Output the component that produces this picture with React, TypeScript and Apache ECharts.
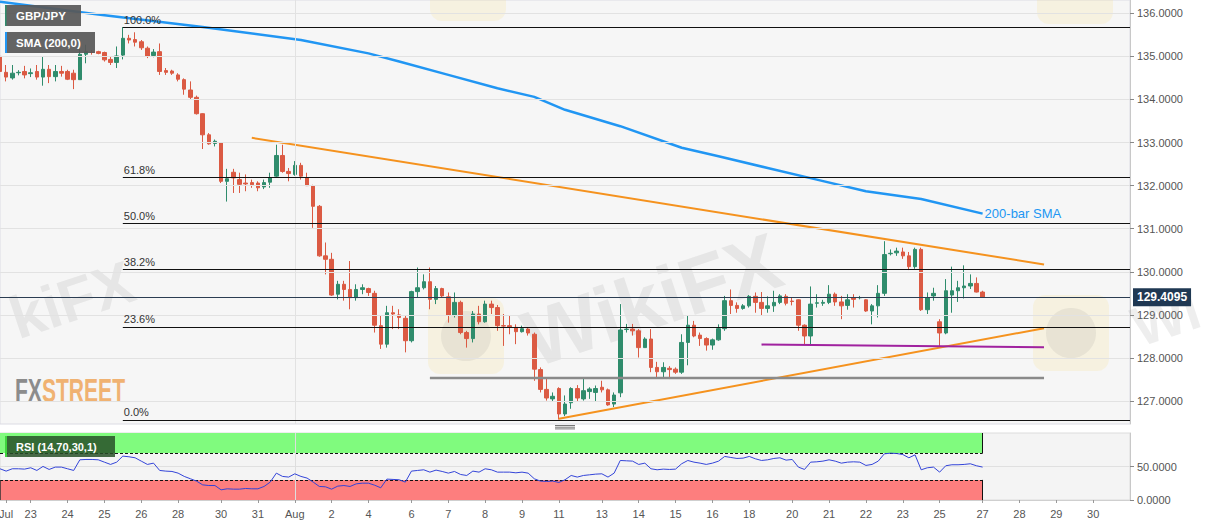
import React, { useEffect, useRef } from "react";
import * as echarts from "echarts";

// ---------- data ----------
const slotCount = 185; // 4-hour slots on the x axis (data + empty future slots)
const tickLabels = ["Jul", "23", "24", "25", "26", "28", "30", "31", "Aug", "2", "4", "6", "7", "8", "9", "11", "13", "14", "15", "16", "18", "20", "21", "22", "23", "25", "27", "28", "29", "30"];
const tickSlots = [1, 5, 11, 17, 23, 29, 36, 42, 48, 54, 60, 67, 73, 79, 85, 91, 98, 104, 110, 116, 122, 129, 135, 141, 147, 153, 160, 166, 172, 178];

const opens = [
  135.00, 134.63, 134.50, 134.62, 134.65, 134.60, 134.65, 134.52, 134.70, 134.53,
  134.65, 134.65, 134.61, 134.46, 135.05, 135.10, 135.11, 135.09, 134.93, 134.86,
  135.03, 135.42, 135.39, 135.34, 135.19, 135.02, 135.11, 134.67, 134.66, 134.57,
  134.46, 134.22, 134.05, 133.67, 133.18, 132.98, 132.99, 132.10, 132.31, 132.14,
  132.06, 132.07, 132.06, 131.97, 132.08, 132.22, 132.70, 132.33, 132.26, 132.47,
  132.18, 131.99, 131.52, 130.37, 130.29, 129.48, 129.71, 129.59, 129.40, 129.59,
  129.61, 129.50, 128.75, 128.32, 129.05, 129.00, 128.92, 128.40, 129.54, 129.63,
  129.77, 129.36, 129.61, 129.42, 128.99, 129.29, 128.59, 128.45, 129.02, 128.84,
  129.25, 129.17, 128.75, 128.75, 128.71, 128.61, 128.67, 128.55, 127.73, 127.27,
  127.05, 127.29, 126.70, 126.96, 127.29, 127.05, 127.22, 127.20, 127.32, 127.26,
  126.93, 127.19, 128.66, 128.67, 128.63, 128.24, 128.44, 127.78, 127.68, 127.76,
  127.74, 127.67, 128.36, 128.76, 128.53, 128.45, 128.30, 128.42, 128.68, 129.33,
  129.22, 129.15, 129.21, 129.43, 129.29, 129.15, 129.21, 129.29, 129.43, 129.32,
  129.35, 128.76, 128.51, 129.27, 129.27, 129.29, 129.48, 129.30, 129.22, 129.40,
  129.40, 129.35, 129.09, 129.21, 129.50, 130.42, 130.44, 130.46, 130.37, 130.12,
  130.52, 129.12, 129.44, 128.84, 128.58, 129.46, 129.56, 129.63, 129.67, 129.73, 129.53,
];
const closes = [
  134.65, 134.52, 134.61, 134.63, 134.57, 134.62, 134.52, 134.70, 134.53, 134.65,
  134.61, 134.47, 134.46, 135.05, 135.11, 135.09, 135.07, 134.92, 134.86, 135.01,
  135.42, 135.38, 135.33, 135.20, 135.00, 135.10, 134.65, 134.63, 134.61, 134.47,
  134.24, 134.05, 133.67, 133.18, 132.97, 133.03, 132.10, 132.16, 132.18, 132.03,
  132.04, 132.02, 131.95, 132.07, 132.18, 132.70, 132.33, 132.28, 132.47, 132.22,
  132.00, 131.52, 130.37, 130.29, 129.46, 129.71, 129.59, 129.40, 129.59, 129.63,
  129.52, 128.76, 128.32, 129.05, 129.02, 128.94, 128.40, 129.54, 129.63, 129.77,
  129.36, 129.61, 129.44, 128.99, 129.29, 128.59, 128.45, 129.02, 128.84, 129.25,
  129.17, 128.75, 128.74, 128.72, 128.61, 128.68, 128.58, 127.74, 127.27, 127.07,
  127.11, 126.70, 126.93, 127.29, 127.07, 127.24, 127.28, 127.29, 127.26, 126.91,
  127.14, 128.65, 128.67, 128.63, 128.24, 128.44, 127.78, 127.68, 127.78, 127.73,
  127.67, 128.36, 128.76, 128.51, 128.45, 128.30, 128.42, 128.68, 129.33, 129.22,
  129.15, 129.21, 129.43, 129.29, 129.15, 129.21, 129.29, 129.44, 129.27, 129.31,
  128.76, 128.51, 129.25, 129.28, 129.29, 129.48, 129.30, 129.21, 129.35, 129.36,
  129.40, 129.09, 129.21, 129.50, 130.40, 130.43, 130.48, 130.37, 130.12, 130.52,
  129.12, 129.40, 129.50, 128.58, 129.56, 129.56, 129.63, 129.67, 129.73, 129.53, 129.41,
];
const lows = [
  134.60, 134.42, 134.46, 134.56, 134.49, 134.52, 134.46, 134.32, 134.38, 134.42,
  134.53, 134.45, 134.24, 134.46, 134.84, 135.04, 135.05, 134.88, 134.80, 134.73,
  134.93, 135.30, 135.23, 135.15, 134.96, 134.98, 134.57, 134.57, 134.57, 134.42,
  134.11, 133.99, 133.65, 132.85, 132.95, 132.91, 132.06, 131.63, 131.83, 131.83,
  131.87, 131.95, 131.87, 131.92, 131.95, 132.18, 132.30, 132.10, 132.23, 132.14,
  131.99, 131.02, 130.35, 129.94, 129.44, 129.36, 129.33, 129.13, 129.33, 129.48,
  129.44, 128.59, 128.21, 128.24, 128.67, 128.67, 128.13, 128.36, 129.40, 129.59,
  129.13, 129.25, 129.40, 128.82, 128.94, 128.55, 128.24, 128.36, 128.78, 128.82,
  129.02, 128.63, 128.28, 128.55, 128.32, 128.59, 128.52, 127.47, 127.20, 127.01,
  126.99, 126.57, 126.65, 126.82, 126.99, 127.01, 127.05, 126.99, 127.20, 126.89,
  126.86, 127.09, 128.59, 128.52, 128.01, 128.24, 127.67, 127.55, 127.55, 127.51,
  127.63, 127.63, 127.83, 128.48, 128.28, 128.17, 128.19, 128.40, 128.63, 129.02,
  129.05, 129.12, 129.17, 129.05, 128.99, 129.05, 129.07, 129.25, 129.22, 129.22,
  128.63, 128.30, 128.30, 129.17, 129.21, 129.25, 129.21, 128.90, 129.12, 129.17,
  129.36, 129.07, 128.78, 128.94, 129.44, 130.38, 130.37, 130.30, 130.04, 130.07,
  129.09, 129.02, 129.33, 128.24, 128.55, 129.05, 129.30, 129.38, 129.60, 129.52, 129.40,
];
const highs = [
  135.05, 134.80, 134.80, 134.68, 134.78, 134.72, 134.80, 135.00, 134.80, 134.80,
  134.78, 134.69, 134.69, 135.30, 135.27, 135.15, 135.13, 135.11, 134.99, 135.23,
  135.68, 135.50, 135.56, 135.38, 135.23, 135.17, 135.30, 134.73, 134.69, 134.61,
  134.49, 134.42, 134.09, 133.68, 133.22, 133.07, 133.01, 132.39, 132.39, 132.30,
  132.26, 132.14, 132.10, 132.14, 132.30, 132.95, 132.95, 132.41, 132.57, 132.53,
  132.30, 132.02, 131.55, 130.68, 130.44, 129.79, 129.79, 130.25, 129.71, 129.71,
  129.63, 129.56, 128.98, 129.21, 129.21, 129.13, 128.98, 129.56, 130.10, 129.94,
  130.10, 129.67, 129.63, 129.52, 129.52, 129.33, 128.63, 129.09, 129.21, 129.33,
  129.33, 129.23, 129.02, 128.98, 128.78, 128.75, 128.71, 128.59, 127.78, 127.55,
  127.20, 127.32, 127.13, 127.32, 127.37, 127.52, 127.32, 127.36, 127.47, 127.29,
  127.20, 129.25, 128.79, 128.79, 128.67, 128.48, 128.67, 127.91, 127.90, 127.81,
  127.78, 128.55, 128.98, 128.86, 128.59, 128.48, 128.45, 128.78, 129.44, 129.59,
  129.29, 129.25, 129.46, 129.52, 129.53, 129.43, 129.56, 129.48, 129.48, 129.40,
  129.36, 128.78, 129.66, 129.48, 129.35, 129.69, 129.52, 129.44, 129.48, 129.48,
  129.44, 129.36, 129.25, 129.69, 130.71, 130.52, 130.56, 130.56, 130.46, 130.56,
  130.56, 129.52, 129.63, 128.90, 129.83, 130.12, 129.79, 130.15, 129.94, 129.87, 129.56,
];
const rsiValues = [
  46.6, 43.1, 46.6, 46.6, 46.1, 48.1, 44.1, 50.1, 45.6, 49.1,
  49.1, 46.6, 44.1, 60.0, 60.5, 60.5, 60.0, 56.5, 53.1, 56.5,
  65.5, 64.5, 63.0, 58.0, 53.1, 55.0, 44.1, 43.1, 42.6, 40.1,
  35.2, 31.7, 28.2, 22.6, 21.6, 21.6, 15.2, 16.7, 16.2, 16.2,
  17.2, 16.7, 16.7, 20.2, 26.7, 40.1, 35.2, 34.2, 39.1, 35.2,
  32.7, 26.7, 20.2, 19.7, 16.2, 20.7, 21.6, 20.2, 24.1, 25.1,
  25.1, 22.1, 18.2, 31.2, 30.7, 30.2, 26.7, 43.1, 44.1, 45.1,
  41.6, 44.6, 42.6, 40.1, 42.6, 38.1, 36.6, 43.1, 41.6, 46.6,
  45.1, 41.6, 41.6, 41.6, 40.6, 41.6, 40.1, 31.7, 28.2, 27.7,
  28.2, 26.2, 30.2, 36.6, 34.2, 36.6, 37.6, 38.6, 39.1, 34.2,
  40.1, 59.0, 58.5, 58.0, 53.1, 55.0, 46.6, 45.1, 46.1, 45.6,
  46.1, 54.1, 59.0, 56.5, 55.0, 53.1, 55.0, 58.0, 65.0, 63.5,
  62.0, 62.5, 65.0, 61.5, 59.0, 60.0, 62.0, 63.0, 59.5, 60.5,
  49.1, 45.6, 56.5, 57.0, 58.0, 60.0, 58.0, 55.0, 56.5, 57.0,
  56.5, 51.6, 53.1, 58.0, 68.9, 69.9, 69.4, 67.9, 63.0, 67.4,
  45.1, 48.1, 49.1, 41.6, 51.1, 52.6, 52.6, 53.1, 54.1, 51.1, 49.1,
];

const smaSlots = [0, 16, 33, 49, 60, 65, 73, 81, 87, 92, 101, 111, 117, 125, 133, 141, 150, 160];
const smaValues = [136.27, 135.97, 135.68, 135.38, 135.07, 134.88, 134.57, 134.26, 134.06, 133.76, 133.38, 132.88, 132.68, 132.41, 132.14, 131.87, 131.69, 131.35];

const fibNames = ["100.0%", "61.8%", "50.0%", "38.2%", "23.6%", "0.0%"];
const fibLevels = [135.68, 132.2, 131.12, 130.06, 128.72, 126.56];
const fibStartSlot = 20;

const upperTrend = [[41, 133.11], [170, 130.17]];
const lowerTrend = [[91, 126.59], [170, 128.69]];
const supportLine = [[70, 127.535], [170, 127.535]];
const purpleLine = [[124, 128.31], [170, 128.25]];

const lastPrice = 129.4095;
const priceTicks = [127, 128, 129, 130, 131, 132, 133, 134, 135, 136];
const rsiTicks = [0, 50];
const rsiUpper = 70;
const rsiLower = 30;

// ---------- styling ----------
const FONT = "'Liberation Sans', Arial, Helvetica, sans-serif";
const UP = "#2f8c6c";
const DOWN = "#db5a43";
const Y_MIN = 126.467;
const Y_MAX = 136.309;
const WM_FILL = "rgba(120,120,120,0.13)";

function buildOption() {
  const categories = Array.from({ length: slotCount }, (_, i) => "s" + i);
  const labelAt: Record<number, string> = {};
  tickSlots.forEach((s, i) => (labelAt[s] = tickLabels[i]));
  const augSlot = tickSlots[tickLabels.indexOf("Aug")];
  const lastSlot = closes.length - 1;
  const endSlot = slotCount - 1;
  const candles = opens.map((o, i) => [o, closes[i], lows[i], highs[i]]);

  const grids = [
    { left: 0, right: 77, top: 0, height: 424, show: true, backgroundColor: "#f6f6f6", borderColor: "#dcdce4", borderWidth: 1, containLabel: false, outerBoundsMode: "none" },
    { left: 0, right: 77, top: 433, height: 67, show: true, backgroundColor: "#f4f4f4", borderColor: "#dcdcdc", borderWidth: 1, containLabel: false, outerBoundsMode: "none" },
  ];

  const fibMarks = fibLevels.map((lvl, i) => [
    {
      coord: [fibStartSlot, lvl],
      lineStyle: { color: "#111", width: 1, type: "solid" },
      label: { show: true, position: "insideStartTop", formatter: fibNames[i], color: "#333", fontSize: 11, fontFamily: FONT, distance: [1, 2] },
    },
    { coord: [endSlot, lvl] },
  ]);

  const lineSeries = (name: string, pts: number[][], color: string, width: number) => ({
    name,
    type: "line",
    xAxisIndex: 0,
    yAxisIndex: 0,
    data: pts,
    symbol: "none",
    silent: true,
    z: 4,
    lineStyle: { color, width },
  });

  const wm = (text: string, x: number, y: number, size: number) => ({
    type: "text", x, y, rotation: 0.32, z: 1, silent: true,
    style: { text, fill: WM_FILL, fontSize: size, fontWeight: "bold", fontFamily: FONT, align: "center", verticalAlign: "middle" },
  });

  return {
    animation: false,
    textStyle: { fontFamily: FONT },
    grid: grids,
    xAxis: [
      {
        type: "category", gridIndex: 0, data: categories, boundaryGap: false,
        axisLine: { show: false }, axisTick: { show: false }, axisLabel: { show: false }, splitLine: { show: false },
      },
      {
        type: "category", gridIndex: 1, data: categories, boundaryGap: false,
        axisLine: { show: true, lineStyle: { color: "#cfcfcf" } },
        axisTick: { show: true, interval: (i: number) => labelAt[i] !== undefined, length: 3, lineStyle: { color: "#999" } },
        axisLabel: { interval: 0, formatter: (_v: string, i: number) => labelAt[i] || "", color: "#555", fontSize: 11, margin: 8, fontFamily: FONT },
        splitLine: { show: false },
      },
    ],
    yAxis: [
      {
        type: "value", gridIndex: 0, position: "right", min: Y_MIN, max: Y_MAX,
        axisLine: { show: true, lineStyle: { color: "#c8c8c8" } },
        axisTick: { show: true, length: 4, customValues: priceTicks, lineStyle: { color: "#888" } },
        axisLabel: { customValues: priceTicks, formatter: (v: number) => v.toFixed(4), color: "#555", fontSize: 11, margin: 7, fontFamily: FONT },
        splitLine: { show: false },
      },
      {
        type: "value", gridIndex: 1, position: "right", min: 0, max: 100,
        axisLine: { show: true, lineStyle: { color: "#c8c8c8" } },
        axisTick: { show: true, length: 4, customValues: rsiTicks, lineStyle: { color: "#888" } },
        axisLabel: { customValues: rsiTicks, formatter: (v: number) => v.toFixed(4), color: "#555", fontSize: 11, margin: 7, fontFamily: FONT },
        splitLine: { show: false },
      },
    ],
    series: [
      {
        name: "gridlines", type: "line", xAxisIndex: 0, yAxisIndex: 0, data: [[0, priceTicks[0]]],
        symbol: "none", lineStyle: { opacity: 0 }, silent: true, z: 1,
        markLine: {
          silent: true, symbol: ["none", "none"], animation: false,
          label: { show: false },
          lineStyle: { color: "#e2e2e2", width: 1, type: "solid" },
          data: [...priceTicks.map((v) => ({ yAxis: v })), { xAxis: augSlot }],
        },
      },
      {
        name: "GBP/JPY", type: "candlestick", xAxisIndex: 0, yAxisIndex: 0, data: candles, barWidth: 4, z: 3,
        itemStyle: { color: UP, color0: DOWN, borderColor: UP, borderColor0: DOWN, borderWidth: 1 },
        markLine: {
          silent: true, symbol: ["none", "none"], animation: false,
          label: { show: false },
          data: [
            ...fibMarks,
            {
              yAxis: lastPrice,
              lineStyle: { color: "#2b3d52", width: 1, type: "solid" },
              label: {
                show: true, position: "end", formatter: lastPrice.toFixed(4), color: "#fff", backgroundColor: "#1f3853",
                padding: [3, 4, 3, 4], fontWeight: "bold", fontSize: 12, fontFamily: FONT, distance: 3,
              },
            },
          ],
        },
      },
      {
        name: "SMA (200,0)", type: "line", xAxisIndex: 0, yAxisIndex: 0,
        data: smaSlots.map((s, i) => [s, smaValues[i]]), smooth: false, symbol: "none", silent: true, z: 4,
        lineStyle: { color: "#2196f3", width: 2.5, join: "round" },
        endLabel: { show: true, formatter: "200-bar SMA", color: "#2196f3", fontSize: 13, fontFamily: FONT, distance: 2 },
      },
      lineSeries("upper trend", upperTrend, "#f5921e", 2),
      lineSeries("lower trend", lowerTrend, "#f5921e", 2),
      lineSeries("support", supportLine, "#8a8a8a", 2.5),
      lineSeries("support 2", purpleLine, "#a0229f", 2),
      {
        name: "RSI", type: "line", xAxisIndex: 1, yAxisIndex: 1, data: rsiValues, symbol: "none", silent: true, z: 5,
        lineStyle: { color: "#3344d8", width: 1 },
        markArea: {
          silent: true,
          data: [
            [{ coord: [0, rsiUpper], itemStyle: { color: "#80fb7e" } }, { coord: [lastSlot, 100] }],
            [{ coord: [0, 0], itemStyle: { color: "#fd7e7e" } }, { coord: [lastSlot, rsiLower] }],
          ],
        },
        markLine: {
          silent: true, symbol: ["none", "none"], animation: false, label: { show: false },
          data: [
            [{ coord: [0, 50], lineStyle: { color: "#e0e0e0", width: 1, type: "solid" } }, { coord: [endSlot, 50] }],
            [{ coord: [0, rsiUpper], lineStyle: { color: "#111", width: 1, type: [3, 2] } }, { coord: [lastSlot, rsiUpper] }],
            [{ coord: [0, rsiLower], lineStyle: { color: "#111", width: 1, type: [3, 2] } }, { coord: [lastSlot, rsiLower] }],
            [{ coord: [lastSlot, rsiUpper], lineStyle: { color: "#111", width: 1, type: "solid" } }, { coord: [lastSlot, 100] }],
            [{ coord: [lastSlot, 0], lineStyle: { color: "#111", width: 1, type: "solid" } }, { coord: [lastSlot, rsiLower] }],
            [{ coord: [0, 0], lineStyle: { color: "#333", width: 1.5, type: "solid" } }, { coord: [0, rsiLower] }],
            [{ coord: [augSlot, 0], lineStyle: { color: "#dedede", width: 1, type: "solid" } }, { coord: [augSlot, 100] }],
          ],
        },
      },
    ],
    graphic: [
      // watermarks
      wm("WikiFX", 652, 300, 80),
      wm("kiFX", 72, 300, 60),
      wm("Wi", 1166, 318, 56),
      { type: "rect", z: 1, silent: true, shape: { x: 428, y: 298, width: 76, height: 76, r: 12 }, style: { fill: "rgba(250,215,110,0.16)" } },
      { type: "circle", z: 1, silent: true, shape: { cx: 466, cy: 336, r: 25 }, style: { fill: "rgba(110,110,110,0.10)" } },
      { type: "rect", z: 1, silent: true, shape: { x: 1033, y: 295, width: 76, height: 76, r: 12 }, style: { fill: "rgba(250,215,110,0.16)" } },
      { type: "circle", z: 1, silent: true, shape: { cx: 1071, cy: 333, r: 25 }, style: { fill: "rgba(110,110,110,0.10)" } },
      { type: "rect", z: 1, silent: true, shape: { x: 430, y: -55, width: 76, height: 76, r: 12 }, style: { fill: "rgba(250,215,110,0.16)" } },
      { type: "rect", z: 1, silent: true, shape: { x: 1037, y: -52, width: 76, height: 76, r: 12 }, style: { fill: "rgba(250,215,110,0.16)" } },
      // FXSTREET logo
      {
        type: "text", x: 15, y: 390, scaleX: 0.62, z: 2, silent: true,
        style: {
          text: "{a|FX}{b|STREET}", verticalAlign: "middle",
          rich: {
            a: { fill: "#8c8c8c", fontSize: 34, fontWeight: "bold", fontFamily: FONT },
            b: { fill: "#f0b272", fontSize: 34, fontWeight: "bold", fontFamily: FONT },
          },
        },
      },
      // header labels
      { type: "rect", z: 10, silent: true, shape: { x: 5, y: 5, width: 76, height: 21 }, style: { fill: "rgba(88,88,88,0.93)" } },
      { type: "rect", z: 11, silent: true, shape: { x: 5, y: 5, width: 1.5, height: 21 }, style: { fill: UP } },
      { type: "text", x: 16, y: 15.5, z: 11, silent: true, style: { text: "GBP/JPY", fill: "#fff", fontSize: 11.5, fontWeight: "bold", fontFamily: FONT, verticalAlign: "middle" } },
      { type: "rect", z: 10, silent: true, shape: { x: 5, y: 32, width: 90, height: 21 }, style: { fill: "rgba(88,88,88,0.93)" } },
      { type: "rect", z: 11, silent: true, shape: { x: 5, y: 32, width: 2, height: 21 }, style: { fill: "#2196f3" } },
      { type: "text", x: 16, y: 42.5, z: 11, silent: true, style: { text: "SMA (200,0)", fill: "#fff", fontSize: 11.5, fontWeight: "bold", fontFamily: FONT, verticalAlign: "middle" } },
      { type: "rect", z: 10, silent: true, shape: { x: 5, y: 436, width: 110, height: 21 }, style: { fill: "rgba(40,80,40,0.85)" } },
      { type: "rect", z: 11, silent: true, shape: { x: 5, y: 436, width: 2, height: 21 }, style: { fill: "#3fd63f" } },
      { type: "text", x: 16, y: 446.5, z: 11, silent: true, style: { text: "RSI (14,70,30,1)", fill: "#fff", fontSize: 11, fontWeight: "bold", fontFamily: FONT, verticalAlign: "middle" } },
      // panel splitter handle
      { type: "rect", z: 10, silent: true, shape: { x: 555, y: 425, width: 20, height: 1 }, style: { fill: "#777" } },
      { type: "rect", z: 10, silent: true, shape: { x: 555, y: 426.7, width: 20, height: 1 }, style: { fill: "#777" } },
      { type: "rect", z: 10, silent: true, shape: { x: 555, y: 428.4, width: 20, height: 1 }, style: { fill: "#777" } },
    ],
  };
}

export default function App() {
  const ref = useRef<HTMLDivElement>(null);
  useEffect(() => {
    if (!ref.current) return;
    const chart = echarts.init(ref.current, null, { renderer: "svg" });
    chart.setOption(buildOption() as any);
    return () => chart.dispose();
  }, []);
  return (
    <div
      ref={ref}
      style={{ position: "absolute", left: 0, top: 0, width: 1207, height: 526, background: "#ffffff" }}
    />
  );
}
